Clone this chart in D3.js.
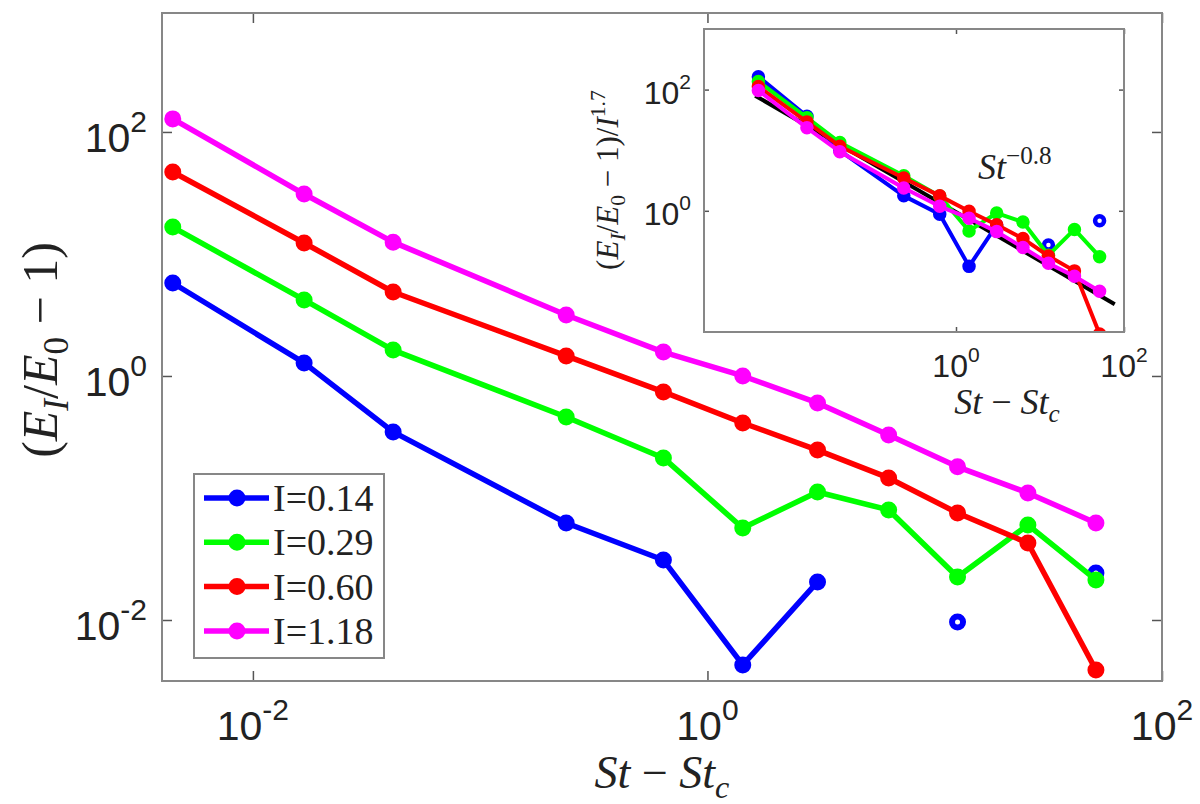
<!DOCTYPE html>
<html>
<head>
<meta charset="utf-8">
<script src="https://cdn.jsdelivr.net/npm/d3@7"></script>
<style>
  body { margin: 0; background: #fff; }
  svg { display: block; }
</style>
</head>
<body>
<svg id="chart" width="1200" height="804"></svg>
<script>
// St - St_c values shared by every series
var stValues = [0.00444, 0.0168, 0.0414, 0.239, 0.640, 1.43, 3.05, 6.27, 12.6, 25.7, 51.2];

// (E_I/E_0 - 1) per intensity, null = no point
var energyI014 = [5.78, 1.28, 0.348, 0.0624, 0.0310, 0.00428, 0.0205, null, 0.00963, null, 0.0243];
var energyI029 = [16.6, 4.20, 1.63, 0.461, 0.213, 0.0568, 0.112, 0.0798, 0.0225, 0.0601, 0.0213];
var energyI060 = [47.0, 12.3, 4.88, 1.46, 0.740, 0.412, 0.247, 0.146, 0.0753, 0.0428, 0.00389];
var energyI118 = [128, 31.0, 12.5, 3.16, 1.57, 1.00, 0.601, 0.328, 0.180, 0.110, 0.0624];

var intensities = [0.14, 0.29, 0.60, 1.18];
var seriesNames = ['I=0.14', 'I=0.29', 'I=0.60', 'I=1.18'];
var seriesColors = ['#0000ff', '#00ff00', '#ff0000', '#ff00ff'];
var scalingExponent = 1.7;

// St^-0.8 guide line in the inset (two ends)
var fitSt = [0.00407, 77.6];
var fitEnergy = [79.4, 0.0288];

var mainXTicks = [1e-2, 1, 1e2];
var mainYTicks = [1e-2, 1, 1e2];
var insetXTicks = [1, 1e2];
var insetYTicks = [1, 1e2];

var serif = "'Liberation Serif', 'Times New Roman', serif";
var sans = "'Liberation Sans', Arial, sans-serif";
var textColor = '#222';
var frameColor = '#878787';
var tickColor = '#555';

var seriesEnergy = [energyI014, energyI029, energyI060, energyI118];

var svg = d3.select('#chart');

var mainBox = { left: 162, top: 13, right: 1162, bottom: 681 };
var insetBox = { left: 704, top: 29, right: 1124, bottom: 332 };

var x = d3.scaleLog().domain([Math.pow(10, -2.4), 1e2]).range([mainBox.left, mainBox.right]);
var y = d3.scaleLog().domain([Math.pow(10, -2.5), Math.pow(10, 2.975)]).range([mainBox.bottom, mainBox.top]);
var xi = d3.scaleLog().domain([1e-3, 1e2]).range([insetBox.left, insetBox.right]);
var yi = d3.scaleLog().domain([1e-2, 1e3]).range([insetBox.bottom, insetBox.top]);

function drawTicks(g, box, xs, ys, xTicks, yTicks, len) {
  var axes = [
    [d3.axisBottom(xs).tickValues(xTicks), 'translate(0,' + box.bottom + ')'],
    [d3.axisTop(xs).tickValues(xTicks), 'translate(0,' + box.top + ')'],
    [d3.axisLeft(ys).tickValues(yTicks), 'translate(' + box.left + ',0)'],
    [d3.axisRight(ys).tickValues(yTicks), 'translate(' + box.right + ',0)']
  ];
  axes.forEach(function(a) {
    var ag = g.append('g').attr('transform', a[1])
      .call(a[0].tickSize(-len).tickFormat(''));
    ag.select('.domain').remove();
    ag.selectAll('line').attr('stroke', tickColor).attr('stroke-width', 1.5);
  });
}

function drawFrame(g, box) {
  g.append('rect')
    .attr('x', box.left).attr('y', box.top)
    .attr('width', box.right - box.left).attr('height', box.bottom - box.top)
    .attr('fill', 'none')
    .attr('stroke', frameColor)
    .attr('stroke-width', 2);
}

function powerLabel(g, px, py, exponent, size, supSize, supRise, anchor) {
  var t = g.append('text')
    .attr('x', px).attr('y', py)
    .attr('text-anchor', anchor)
    .attr('font-family', sans)
    .attr('font-size', size)
    .attr('fill', textColor);
  t.append('tspan').text('10');
  t.append('tspan').attr('font-size', supSize).attr('dy', -supRise).text(exponent);
}

function mathText(g, parts, size) {
  var t = g.append('text')
    .attr('font-family', serif)
    .attr('font-size', size)
    .attr('fill', textColor)
    .attr('text-anchor', 'middle');
  var shift = 0;
  parts.forEach(function(p) {
    var target = p.sub ? size * 0.22 : (p.sup ? -size * 0.42 : 0);
    var span = t.append('tspan').attr('dy', target - shift).text(p.t);
    if (p.it) span.attr('font-style', 'italic');
    if (p.sub || p.sup) span.attr('font-size', size * 0.7);
    shift = target;
  });
  return t;
}

function toPoints(values, divisor) {
  return stValues.map(function(st, i) {
    return { st: st, v: values[i] == null ? null : values[i] / divisor, i: i };
  });
}

function drawSeries(g, xs, ys, points, color, lineWidth, r, markerStroke) {
  var line = d3.line()
    .defined(function(d) { return d.v != null; })
    .x(function(d) { return xs(d.st); })
    .y(function(d) { return ys(d.v); });

  g.append('path')
    .datum(points)
    .attr('d', line)
    .attr('fill', 'none')
    .attr('stroke', color)
    .attr('stroke-width', lineWidth)
    .attr('stroke-linejoin', 'round');

  g.selectAll(null)
    .data(points.filter(function(d) { return d.v != null; }))
    .enter()
    .append('circle')
    .attr('cx', function(d) { return xs(d.st); })
    .attr('cy', function(d) { return ys(d.v); })
    .attr('r', r)
    .attr('stroke', color)
    .attr('stroke-width', markerStroke)
    .attr('fill', function(d) {
      var prev = points[d.i - 1], next = points[d.i + 1];
      var isolated = (!prev || prev.v == null) && (!next || next.v == null);
      return isolated ? 'white' : color;
    });
}

var spaced = '\u2009\u2212\u2009';

// ---------- main plot ----------
svg.append('defs').call(function(defs) {
  defs.append('clipPath').attr('id', 'clip-main').append('rect')
    .attr('x', mainBox.left).attr('y', mainBox.top)
    .attr('width', mainBox.right - mainBox.left).attr('height', mainBox.bottom - mainBox.top);
  defs.append('clipPath').attr('id', 'clip-inset').append('rect')
    .attr('x', insetBox.left).attr('y', insetBox.top)
    .attr('width', insetBox.right - insetBox.left).attr('height', insetBox.bottom - insetBox.top);
});

var mainG = svg.append('g');
drawTicks(mainG, mainBox, x, y, mainXTicks, mainYTicks, 10);

var mainData = mainG.append('g').attr('clip-path', 'url(#clip-main)');
seriesEnergy.forEach(function(values, k) {
  drawSeries(mainData, x, y, toPoints(values, 1), seriesColors[k], 5.5, 5.5, 6);
});
drawFrame(mainG, mainBox);

mainXTicks.forEach(function(v) {
  powerLabel(mainG, x(v), 740, String(Math.round(Math.log10(v))), 41, 30, 20, 'middle');
});
mainYTicks.forEach(function(v) {
  powerLabel(mainG, 147, y(v) + 20, String(Math.round(Math.log10(v))), 41, 30, 20, 'end');
});

mathText(mainG, [
  { t: 'St', it: true }, { t: ' \u2212 ' }, { t: 'St', it: true }, { t: 'c', it: true, sub: true }
], 46).attr('x', 662).attr('y', 788);

mathText(mainG, [
  { t: '(' }, { t: 'E', it: true }, { t: 'I', it: true, sub: true }, { t: '/' },
  { t: 'E', it: true }, { t: '0', sub: true }, { t: ' \u2212 1)' }
], 50).attr('transform', 'translate(57,350) rotate(-90)');

// legend
var legend = mainG.append('g');
legend.append('rect')
  .attr('x', 194).attr('y', 474).attr('width', 190).attr('height', 184)
  .attr('fill', 'white').attr('stroke', frameColor).attr('stroke-width', 2);
seriesNames.forEach(function(name, k) {
  var ly = 498 + k * 44.3;
  legend.append('line')
    .attr('x1', 204).attr('x2', 269).attr('y1', ly).attr('y2', ly)
    .attr('stroke', seriesColors[k]).attr('stroke-width', 5.5);
  legend.append('circle')
    .attr('cx', 237).attr('cy', ly).attr('r', 5.5)
    .attr('fill', seriesColors[k]).attr('stroke', seriesColors[k]).attr('stroke-width', 6);
  legend.append('text')
    .attr('x', 273).attr('y', ly + 13)
    .attr('font-family', serif).attr('font-size', 38).attr('fill', textColor)
    .text(name);
});

// ---------- inset ----------
var insetG = svg.append('g');
insetG.append('rect')
  .attr('x', insetBox.left).attr('y', insetBox.top)
  .attr('width', insetBox.right - insetBox.left).attr('height', insetBox.bottom - insetBox.top)
  .attr('fill', 'white');
drawTicks(insetG, insetBox, xi, yi, insetXTicks, insetYTicks, 5);

var insetData = insetG.append('g').attr('clip-path', 'url(#clip-inset)');
insetData.append('path')
  .datum(d3.zip(fitSt, fitEnergy))
  .attr('d', d3.line().x(function(d) { return xi(d[0]); }).y(function(d) { return yi(d[1]); }))
  .attr('stroke', 'black').attr('stroke-width', 4).attr('fill', 'none');
seriesEnergy.forEach(function(values, k) {
  var divisor = Math.pow(intensities[k], scalingExponent);
  drawSeries(insetData, xi, yi, toPoints(values, divisor), seriesColors[k], 4, 4.5, 4.5);
});
drawFrame(insetG, insetBox);

insetXTicks.forEach(function(v) {
  powerLabel(insetG, xi(v), 377, String(Math.round(Math.log10(v))), 32, 21, 15, 'middle');
});
insetYTicks.forEach(function(v) {
  powerLabel(insetG, 691, yi(v) + 14, String(Math.round(Math.log10(v))), 32, 21, 15, 'end');
});

mathText(insetG, [
  { t: 'St', it: true }, { t: ' \u2212 ' }, { t: 'St', it: true }, { t: 'c', it: true, sub: true }
], 36).attr('x', 1007).attr('y', 414);

mathText(insetG, [
  { t: '(' }, { t: 'E', it: true }, { t: 'I', it: true, sub: true }, { t: '/' },
  { t: 'E', it: true }, { t: '0', sub: true }, { t: ' \u2212 1)/' },
  { t: 'I', it: true }, { t: '1.7', sup: true }
], 31).attr('transform', 'translate(618,180) rotate(-90)');

mathText(insetG, [
  { t: 'St', it: true }, { t: '\u22120.8', sup: true }
], 36).attr('text-anchor', 'start').attr('x', 978).attr('y', 179);
</script>
</body>
</html>
